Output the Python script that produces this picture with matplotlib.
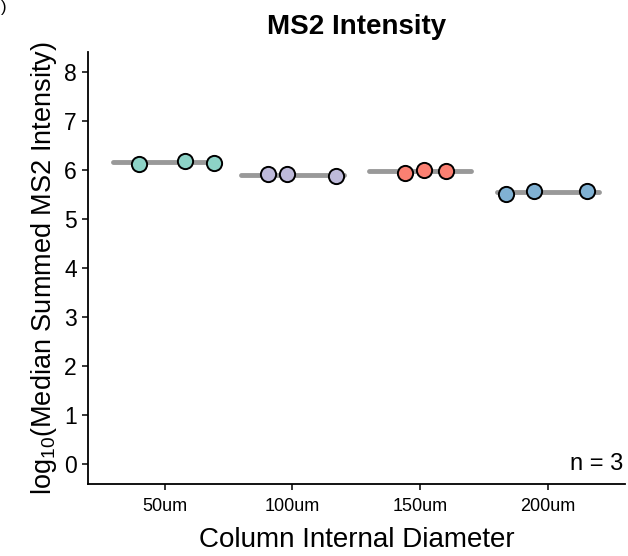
import numpy as np
import matplotlib
matplotlib.use("Agg")
import matplotlib.pyplot as plt

plt.rcParams["font.family"] = ["Liberation Sans", "DejaVu Sans"]

categories = ["50um", "100um", "150um", "200um"]
colors = ["#8DD3C7", "#BEBADA", "#FB8072", "#80B1D3"]
# jitter offsets (fraction of category spacing)
jitter = [[-0.20, 0.16, 0.39],
          [-0.19, -0.04, 0.34],
          [-0.12, 0.03, 0.20],
          [-0.33, -0.11, 0.30]]
values = [[6.13, 6.19, 6.15],
          [5.91, 5.91, 5.87],
          [5.93, 6.01, 5.97],
          [5.52, 5.58, 5.58]]

fig = plt.figure(figsize=(6.28, 5.56), dpi=100)
ax = fig.add_axes([0.140, 0.1295, 0.855, 0.7765])

for i, (cat, col) in enumerate(zip(categories, colors)):
    xc = i + 1
    v = np.array(values[i])
    ax.plot([xc - 0.4, xc + 0.4], [v.mean(), v.mean()], color="#999999",
            lw=3.5, solid_capstyle="round", zorder=2)
    ax.scatter(xc + np.array(jitter[i]), v, s=120, facecolor=col,
               edgecolor="black", linewidth=1.4, zorder=3)

ax.set_xlim(0.4, 4.6)
ax.set_ylim(-0.4, 8.4)
ax.set_xticks(range(1, 5))
ax.set_xticklabels(categories, fontsize=13)
ax.set_yticks(range(0, 9))
ax.tick_params(axis="y", labelsize=16.5, length=4, width=1.1, pad=4)
ax.tick_params(axis="x", length=4, width=1.1, pad=6)
for s in ["top", "right"]:
    ax.spines[s].set_visible(False)
for s in ["left", "bottom"]:
    ax.spines[s].set_linewidth(1.3)

ax.set_xlabel("Column Internal Diameter", fontsize=20, labelpad=9)
ax.set_ylabel(r"$\mathregular{log_{10}}$(Median Summed MS2 Intensity)",
              fontsize=19.5, labelpad=4)
ax.set_title("MS2 Intensity", fontsize=20, fontweight="bold", pad=13)
ax.text(0.997, 0.4 / 8.8, "n = 3", transform=ax.transAxes,
        ha="right", va="center", fontsize=17)
fig.text(0.002, 1.0, ")", fontsize=12, ha="left", va="top")

fig.savefig("out.png", dpi=100)
